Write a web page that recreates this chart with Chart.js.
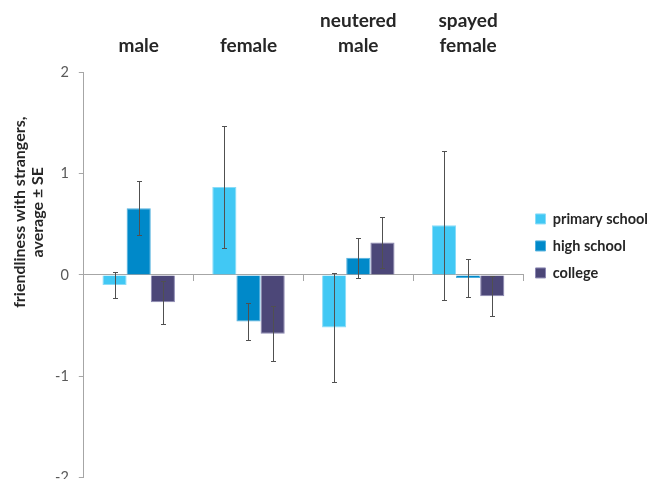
<!DOCTYPE html>
<html>
<head>
<meta charset="utf-8">
<script src="https://cdn.jsdelivr.net/npm/chart.js@4/dist/chart.umd.min.js"></script>
<style>
  html, body { margin: 0; padding: 0; background: #ffffff; overflow: hidden; }
  #wrap { width: 654px; height: 479px; overflow: hidden; }
</style>
</head>
<body>
<div id="wrap"><canvas id="c" width="654" height="496"></canvas></div>
<script>
// Animal groups (shown above the plot)
const categories = [['male'], ['female'], ['neutered', 'male'], ['spayed', 'female']];
const seriesNames = ['primary school', 'high school', 'college'];

// Mean friendliness with strangers per owner education level
const primarySchool = [-0.10, 0.87, -0.52, 0.49];
const highSchool    = [0.66, -0.46, 0.17, -0.03];
const college       = [-0.27, -0.58, 0.32, -0.21];

// Standard errors of the means
const primarySE = [0.13, 0.60, 0.54, 0.74];
const highSE    = [0.27, 0.18, 0.20, 0.19];
const collegeSE = [0.21, 0.27, 0.25, 0.20];

const yTicks = [-2, -1, 0, 1, 2];
const yTitle = ['friendliness with strangers,', 'average ± SE'];

const fills   = ['#41c8f4', '#0089c9', '#4c4778'];
const borders = ['#8adcf8', '#4fb0de', '#8c88b3'];
const axisGrey = '#a6a6a6';

const FONT = 'Lato, "Open Sans", "Liberation Sans", sans-serif';

// Draws ±SE whiskers over each bar using the y scale
const errorBars = {
  id: 'errorBars',
  afterDatasetsDraw(chart) {
    const ctx = chart.ctx;
    const y = chart.scales.y;
    chart.data.datasets.forEach((ds, di) => {
      const meta = chart.getDatasetMeta(di);
      meta.data.forEach((bar, i) => {
        const v = ds.data[i], e = ds.se[i];
        const yTop = Math.round(y.getPixelForValue(v + e)) + 0.5;
        const yBot = Math.round(y.getPixelForValue(v - e)) + 0.5;
        const x = Math.round(bar.x) + 0.5;
        ctx.save();
        ctx.strokeStyle = '#505050';
        ctx.lineWidth = 1;
        ctx.beginPath();
        ctx.moveTo(x, yTop); ctx.lineTo(x, yBot);
        ctx.moveTo(x - 2.5, yTop); ctx.lineTo(x + 2.5, yTop);
        ctx.moveTo(x - 2.5, yBot); ctx.lineTo(x + 2.5, yBot);
        ctx.stroke();
        ctx.restore();
      });
    });
  }
};

// Two-line rotated y-axis title, placed beside the upper half of the axis
const yAxisTitle = {
  id: 'yAxisTitle',
  afterDraw(chart) {
    const ctx = chart.ctx;
    const y = chart.scales.y;
    const cy = y.getPixelForValue(0.62);
    const xs = [20, 38];
    ctx.save();
    ctx.fillStyle = '#262626';
    ctx.font = 'bold 16px ' + FONT;
    ctx.textAlign = 'center';
    ctx.textBaseline = 'middle';
    yTitle.forEach((line, i) => {
      ctx.save();
      ctx.translate(xs[i], cy);
      ctx.rotate(-Math.PI / 2);
      ctx.fillText(line, 0, 0);
      ctx.restore();
    });
    ctx.restore();
  }
};

const values = [primarySchool, highSchool, college];
const errors = [primarySE, highSE, collegeSE];

new Chart(document.getElementById('c'), {
  type: 'bar',
  data: {
    labels: categories,
    datasets: seriesNames.map((name, k) => ({
      label: name,
      data: values[k],
      se: errors[k],
      backgroundColor: fills[k],
      borderColor: borders[k],
      borderWidth: 1,
      categoryPercentage: 0.66,
      barPercentage: 1.0
    }))
  },
  options: {
    responsive: false,
    animation: false,
    layout: { padding: { left: 45, right: 0, top: -6, bottom: 0 } },
    plugins: {
      tooltip: { enabled: false },
      legend: {
        position: 'right',
        align: 'start',
        maxWidth: 131,
        title: { display: true, text: ' ', font: { size: 1 }, padding: { top: 204, bottom: 0 } },
        labels: {
          boxWidth: 10,
          boxHeight: 10,
          padding: 12.5,
          color: '#262626',
          font: { family: FONT, size: 14.5, weight: 'bold' }
        }
      }
    },
    scales: {
      x: {
        position: 'top',
        grid: { display: false, drawTicks: false },
        border: { display: false },
        ticks: {
          color: '#262626',
          padding: 14.6,
          font: { family: FONT, size: 19, weight: 'bold', lineHeight: 1.3 }
        }
      },
      xZero: {
        type: 'category',
        labels: categories,
        position: { y: 0 },
        offset: true,
        grid: { offset: true, drawOnChartArea: false, tickLength: 6, color: axisGrey },
        border: { color: axisGrey },
        ticks: { display: false }
      },
      y: {
        min: -2,
        max: 2,
        afterBuildTicks(scale) { scale.ticks = yTicks.map(v => ({ value: v })); },
        grid: { drawOnChartArea: false, tickLength: 5, color: axisGrey },
        border: { color: axisGrey },
        ticks: {
          color: '#595959',
          padding: 10,
          font: { family: FONT, size: 14.5 },
          callback: v => String(v)
        }
      }
    }
  },
  plugins: [errorBars, yAxisTitle]
});
</script>
</body>
</html>
